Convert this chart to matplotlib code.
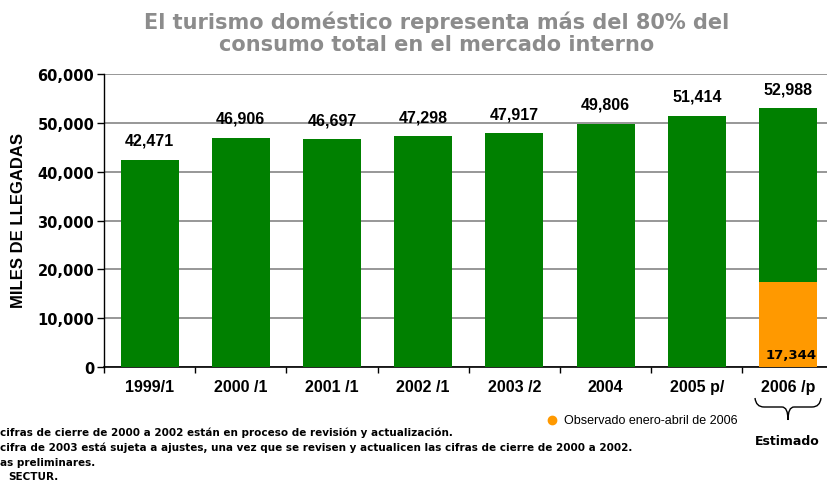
import matplotlib
matplotlib.use("Agg")
import matplotlib.pyplot as plt
from matplotlib.path import Path
from matplotlib.patches import PathPatch
import numpy as np

# datos (miles de llegadas)
years = ['1999/1', '2000 /1', '2001 /1', '2002 /1', '2003 /2', '2004', '2005 p/', '2006 /p']
llegadas = [42471, 46906, 46697, 47298, 47917, 49806, 51414, 52988]
observado_2006 = 17344
yticks = [0, 10000, 20000, 30000, 40000, 50000, 60000]

titulo = ["El turismo doméstico representa más del 80% del",
          "consumo total en el mercado interno"]
notas = [
    "cifras de cierre de 2000 a 2002 están en proceso de revisión y actualización.",
    "cifra de 2003 está sujeta a ajustes, una vez que se revisen y actualicen las cifras de cierre de 2000 a 2002.",
    "as preliminares.",
    "SECTUR.",
]

GREEN = '#008000'
ORANGE = '#FF9900'

fig = plt.figure(figsize=(8.27, 4.85), dpi=100)
ax = fig.add_axes([104/827, 117/485, 729.6/827, 293/485])

x = np.arange(len(years))
ax.bar(x, llegadas, width=0.636, color=GREEN, zorder=3)
ax.bar(x[-1], observado_2006, width=0.636, color=ORANGE, zorder=4)

for xi, v in zip(x, llegadas):
    ax.annotate(f"{v:,}", (xi, v), xytext=(0, 14), textcoords='offset points',
                ha='center', va='center', fontsize=11.5, fontweight='bold',
                family='Liberation Sans')
ax.annotate(f"{observado_2006:,}", (x[-1], 0), xytext=(2, 9), textcoords='offset points',
            ha='center', va='center', fontsize=9.5, fontweight='bold',
            family='DejaVu Sans', zorder=5)

ax.set_xlim(-0.5, len(years) - 0.5)
ax.set_ylim(0, 60000)
ax.set_yticks(yticks)
ax.set_yticklabels([f"{t:,}" for t in yticks], fontsize=10.5, fontweight='bold', family='DejaVu Sans')
ax.yaxis.grid(True, color='#7A7A7A', linewidth=1.1, zorder=0)
ax.set_axisbelow(True)

ax.set_xticks(x)
ax.set_xticklabels(years, fontsize=11.5, fontweight='bold', family='Liberation Sans')
ax.set_xticks(np.arange(-0.5, len(years), 1), minor=True)
ax.tick_params(axis='x', which='major', length=0, pad=9)
ax.tick_params(axis='x', which='minor', length=4, width=1, direction='out')
ax.tick_params(axis='y', length=5, width=1, direction='out', pad=2)

for s in ['top', 'right']:
    ax.spines[s].set_visible(False)
ax.spines['left'].set_linewidth(1)
ax.spines['bottom'].set_linewidth(1.2)

# capa en pixeles para textos sueltos
ov = fig.add_axes([0, 0, 1, 1])
ov.set_xlim(0, 827)
ov.set_ylim(485, 0)
ov.axis('off')
ov.patch.set_alpha(0)

ov.text(437, 22, titulo[0], ha='center', va='center', fontsize=15, fontweight='bold',
        color='#8C8C8C', family='DejaVu Sans')
ov.text(437, 45, titulo[1], ha='center', va='center', fontsize=15, fontweight='bold',
        color='#8C8C8C', family='DejaVu Sans')

ov.text(19, 221, "MILES DE LLEGADAS", rotation=90, ha='center', va='center',
        fontsize=12, fontweight='bold', family='Liberation Sans')

# leyenda
ov.plot([552], [421], 'o', color=ORANGE, markersize=6)
ov.text(564, 421, "Observado enero-abril de 2006", ha='left', va='center',
        fontsize=9, family='Liberation Sans')

# llave bajo 2006
verts = [(755, 399), (756, 408), (764, 408), (782, 408), (788, 408), (788, 421),
         (788, 408), (794, 408), (812, 408), (820, 408), (821, 399)]
codes = [Path.MOVETO, Path.CURVE3, Path.CURVE3, Path.LINETO, Path.CURVE3, Path.CURVE3,
         Path.CURVE3, Path.CURVE3, Path.LINETO, Path.CURVE3, Path.CURVE3]
ov.add_patch(PathPatch(Path(verts, codes), facecolor='none', edgecolor='black', linewidth=1))
ov.text(787, 442, "Estimado", ha='center', va='center', fontsize=9, fontweight='bold',
        family='DejaVu Sans')

for i, nota in enumerate(notas):
    xpos = 8 if i == 3 else 0
    ov.text(xpos, [433, 448, 463, 477][i], nota, ha='left', va='center', fontsize=7.5,
            fontweight='bold', family='DejaVu Sans')

fig.savefig("out.png", dpi=100)
